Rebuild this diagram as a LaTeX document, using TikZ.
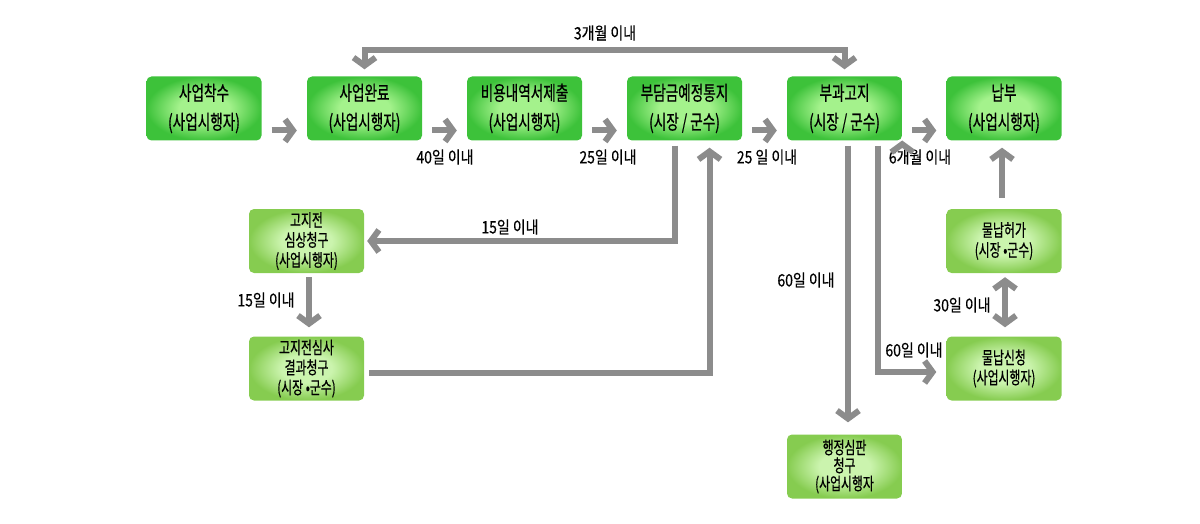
\documentclass[tikz,border=0pt]{standalone}
\usepackage{fontspec}
\setmainfont{Noto Sans CJK KR}[FakeStretch=0.68, FakeBold=0.5]
\newfontfamily\lblfont{Noto Sans CJK KR}[FakeStretch=0.82, FakeBold=0.4]
\usepackage{tikz}
\usetikzlibrary{positioning, arrows.meta, calc}

\definecolor{topin}{HTML}{A4F28C}
\definecolor{topout}{HTML}{3DC23A}
\definecolor{lowin}{HTML}{CBF4AE}
\definecolor{lowout}{HTML}{86CC50}
\definecolor{flowgray}{HTML}{8C8C8C}

\pgfdeclareradialshading{toppaint}{\pgfpoint{0bp}{0bp}}{color(0bp)=(topin); color(11bp)=(topin); color(25bp)=(topout); color(50bp)=(topout)}
\pgfdeclareradialshading{lowpaint}{\pgfpoint{0bp}{0bp}}{color(0bp)=(lowin); color(11bp)=(lowin); color(25bp)=(lowout); color(50bp)=(lowout)}

\tikzset{
  stage/.style={rectangle, rounded corners=5pt, minimum width=115pt, minimum height=64pt,
    inner sep=1pt, align=center, shading=toppaint, font=\fontsize{20}{29}\selectfont},
  substage/.style={stage, shading=lowpaint, font=\fontsize{17.5}{20}\selectfont},
  lbl/.style={font=\lblfont\fontsize{17}{18}\selectfont, inner sep=0pt},
  flow/.style={draw=flowgray, line width=6pt, shorten <=5pt,
    -{Straight Barb[length=8pt, width=22pt]}},
  both/.style={{Straight Barb[length=8pt, width=22pt]}-{Straight Barb[length=8pt, width=22pt]}}
}

\begin{document}
\begin{tikzpicture}[x=1pt, y=-1pt]

            \useasboundingbox (0,0) rectangle (1200,524);

            \node[stage] (start) at (204,108.5) {사업착수\\(사업시행자)};
            \node[stage] (done) at (364.5,108.5) {사업완료\\(사업시행자)};
            \node[stage] (cost) at (524.5,108.5) {비용내역서제출\\(사업시행자)};
            \node[stage] (notice) at (684.5,108.5) {부담금예정통지\\(시장 / 군수)};
            \node[stage] (levy) at (844.5,108.5) {부과고지\\(시장 / 군수)};
            \node[stage] (pay) at (1004,108.5) {납부\\(사업시행자)};

            \node[substage] (review) at (306.5,241) {고지전\\심상청구\\(사업시행자)};
            \node[substage] (result) at (306.5,368.5) {고지전심사\\결과청구\\(시장 •군수)};
            \node[substage] (permit) at (1004,241) {물납허가\\(시장 •군수)};
            \node[substage] (apply) at (1004,368.5) {물납신청\\(사업시행자)};
            \node[substage, font=\fontsize{17.5}{18}\selectfont] (appeal) at (844.5,466.5) {행정심판\\청구\\(사업시행자};

            \coordinate (loop) at (605,50);

            \node[lbl] (l3m) at (605,33) {3개월 이내};
            \node[lbl] (l40) at (445,157) {40일 이내};
            \node[lbl] (l25a) at (608,157) {25일 이내};
            \node[lbl] (l25b) at (767,157) {25 일 이내};
            \node[lbl] (l6m) at (920,157) {6개월 이내};
            \node[lbl] (l15a) at (510,227) {15일 이내};
            \node[lbl] (l15b) at (266,300) {15일 이내};
            \node[lbl] (l60a) at (806,280) {60일 이내};
            \node[lbl] (l60b) at (914,350) {60일 이내};
            \node[lbl] (l30) at (962,305) {30일 이내};

            \path[flow, shorten <=10pt, shorten >=10pt]

            ([yshift=-22pt]start.east) edge ([yshift=-22pt]done.west)
            ([yshift=-22pt]done.east) edge ([yshift=-22pt]cost.west)
            ([yshift=-22pt]cost.east) edge ([yshift=-22pt]notice.west)
            ([yshift=-22pt]notice.east) edge ([yshift=-22pt]levy.west)
            ([yshift=-22pt]levy.east) edge ([yshift=-22pt]pay.west)

            ;

            \draw[flow, both, shorten <=7pt, shorten >=7pt] (done.north) |- (loop) -| (levy.north);
            \draw[flow, shorten >=3pt] ([xshift=-10pt]notice.south) |- (review.east);
            \draw[flow, shorten <=4pt, shorten >=9pt] ([xshift=2.5pt]review.south) -- ([xshift=2.5pt]result.north);
            \draw[flow, shorten >=7pt] ([yshift=-4.5pt]result.east) -| ([xshift=25pt]notice.south);
            \draw[flow, shorten >=12pt] ([xshift=3.5pt]levy.south) -- ([xshift=3.5pt]appeal.north);
            \draw[flow, shorten >=10pt] ([xshift=33.5pt]levy.south) |- ([yshift=-3.5pt]apply.west);
            \draw[flow, both, shorten <=4pt, shorten >=9pt] ([xshift=1pt]permit.south) -- ([xshift=1pt]apply.north);
            \draw[flow, shorten <=11pt, shorten >=7pt] ([xshift=-2pt]permit.north) -- ([xshift=-2pt]pay.south);

        \end{tikzpicture}
\end{document}
